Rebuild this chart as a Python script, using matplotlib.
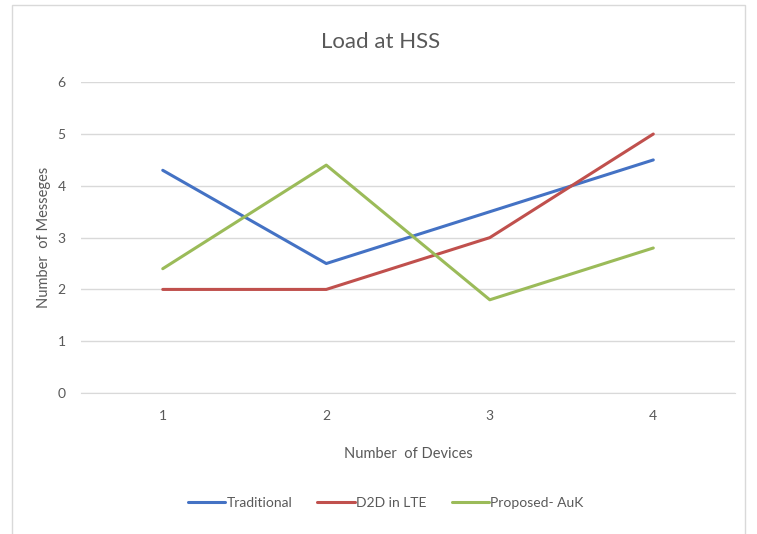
import matplotlib.pyplot as plt
from matplotlib.patches import Rectangle

plt.rcParams['font.family'] = ['Lato', 'DejaVu Sans']

devices = [1, 2, 3, 4]
device_labels = ['1', '2', '3', '4']
traditional = [4.3, 2.5, 3.5, 4.5]
d2d_lte = [2, 2, 3, 5]
proposed_auk = [2.4, 4.4, 1.8, 2.8]

series = [
    ('Traditional', traditional, '#4472C4'),
    ('D2D in LTE', d2d_lte, '#C0504D'),
    ('Proposed- AuK', proposed_auk, '#9BBB59'),
]

txt = '#595959'

fig = plt.figure(figsize=(7.57, 5.34), dpi=100)
ax = fig.add_axes([0.107, 0.264, 0.864, 0.582])

for name, vals, col in series:
    ax.plot(devices, vals, color=col, lw=2.2, label=name, solid_capstyle='round')

ax.set_xlim(0.5, 4.5)
ax.set_ylim(0, 6)
ax.set_xticks(devices)
ax.set_xticklabels(device_labels)
ax.set_yticks(range(0, 7))
ax.grid(axis='y', color='#d9d9d9', lw=1)
ax.set_axisbelow(True)
for s in ['top', 'right', 'left']:
    ax.spines[s].set_visible(False)
ax.spines['bottom'].set_color('#d9d9d9')
ax.tick_params(length=0, colors=txt, labelsize=10, pad=12)
ax.tick_params(axis='y', pad=11)

fig.text(381 / 757, 1 - 42 / 534, 'Load at HSS', color=txt, fontsize=16,
         ha='center', va='center')
ax.set_xlabel('Number  of Devices', color=txt, fontsize=10.5, labelpad=18)
ax.set_ylabel('Number  of Messeges', color=txt, fontsize=10.5, labelpad=5)

ax.legend(loc='center', bbox_to_anchor=(0.466, -0.354), ncol=3, frameon=False,
          fontsize=10, labelcolor=txt, handlelength=2.7, handletextpad=0.1,
          columnspacing=1.8)

fig.patches.append(Rectangle((12 / 757, -0.01), 733 / 757, 1 - 5 / 534 + 0.01,
                             transform=fig.transFigure, fill=False,
                             edgecolor='#d9d9d9', lw=1))

fig.savefig('out.png', dpi=100)
